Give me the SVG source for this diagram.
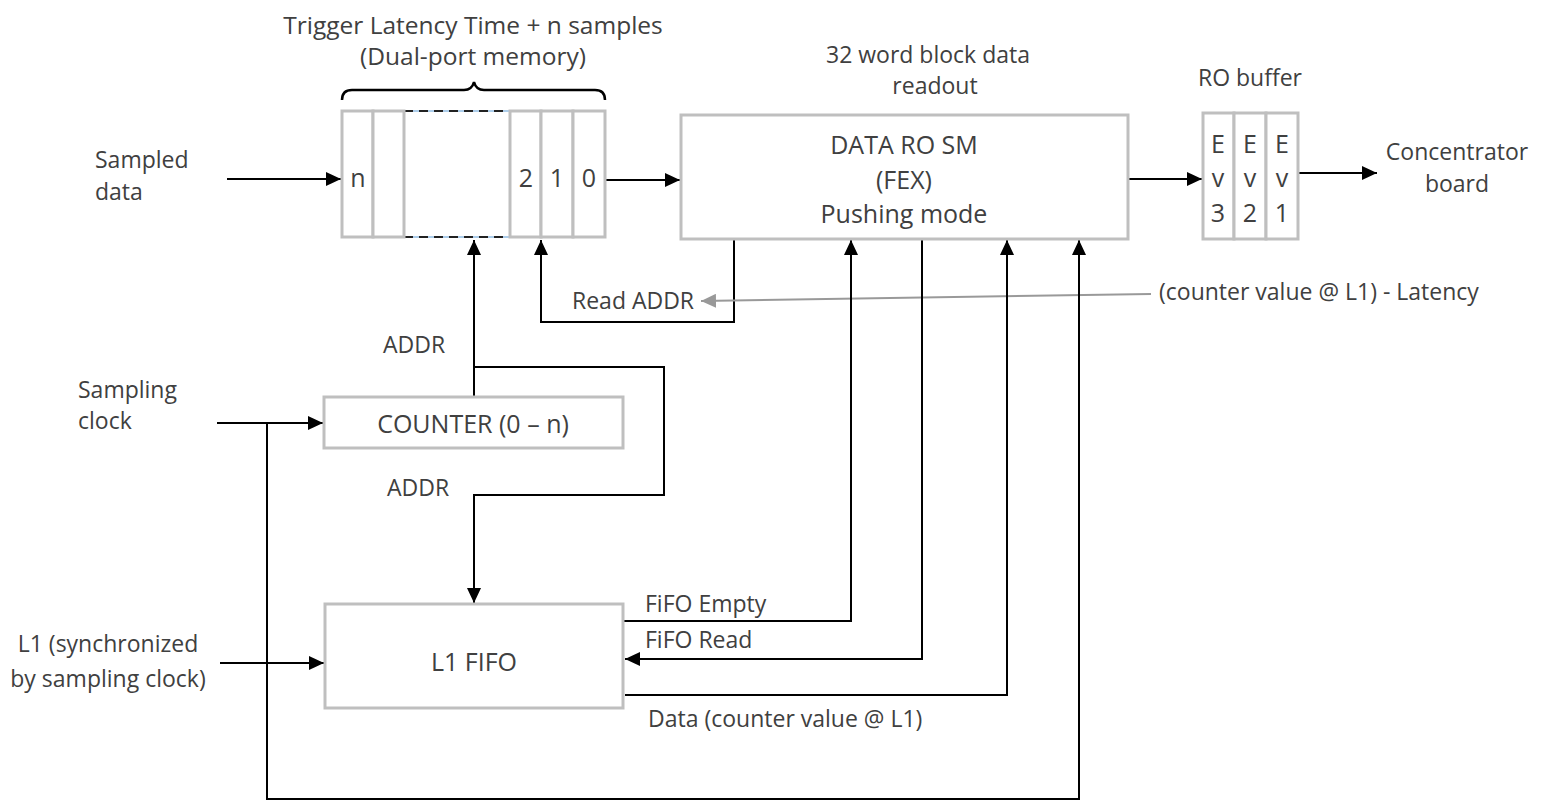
<svg xmlns="http://www.w3.org/2000/svg" width="1544" height="803" viewBox="0 0 1544 803">
  <defs>
    <marker id="arrow" markerUnits="userSpaceOnUse" markerWidth="16" markerHeight="14" refX="15" refY="7" orient="auto">
      <path d="M0,0 L15,7 L0,14 z" fill="#000"/>
    </marker>
    <marker id="arrowGray" markerUnits="userSpaceOnUse" markerWidth="16" markerHeight="14" refX="15" refY="7" orient="auto">
      <path d="M0,0 L15,7 L0,14 z" fill="#999"/>
    </marker>
  </defs>
  <style>
    text { font-family: "Open Sans", "Liberation Sans", sans-serif; font-size: 23px; fill: #404040; }
    .big { font-size: 25px; }
    .mid { text-anchor: middle; }
    .box { fill: #fff; stroke: #bfbfbf; stroke-width: 3; }
    .wire { fill: none; stroke: #000; stroke-width: 2; }
    .arr { marker-end: url(#arrow); }
    .gray { fill: none; stroke: #999; stroke-width: 2; marker-end: url(#arrowGray); }
  </style>

  <rect width="1544" height="803" fill="#fff"/>

  <!-- Connectors -->
  <g id="connectors">
    <!-- inputs -->
    <line class="wire arr" x1="227" y1="179" x2="341" y2="179"/>
    <line class="wire arr" x1="217" y1="423" x2="323" y2="423"/>
    <line class="wire arr" x1="220" y1="663" x2="324" y2="663"/>
    <!-- data path -->
    <line class="wire arr" x1="606" y1="180" x2="680" y2="180"/>
    <line class="wire arr" x1="1129" y1="179" x2="1202" y2="179"/>
    <line class="wire arr" x1="1299" y1="173" x2="1377" y2="173"/>
    <!-- write address from counter -->
    <line class="wire arr" x1="474" y1="397" x2="474" y2="240"/>
    <polyline class="wire arr" points="474,367 664,367 664,495 474,495 474,603"/>
    <!-- read address -->
    <polyline class="wire arr" points="734,240 734,322 541,322 541,240"/>
    <polyline class="gray" points="1151,294 701,301"/>
    <!-- FIFO handshake -->
    <polyline class="wire arr" points="624,621 851,621 851,240"/>
    <polyline class="wire arr" points="922,240 922,659 625,659"/>
    <polyline class="wire arr" points="625,695 1007,695 1007,240"/>
    <!-- sampling clock distribution -->
    <polyline class="wire arr" points="267,423 267,799 1079,799 1079,240"/>
  </g>

  <!-- Dual-port memory -->
  <g id="memory">
    <text class="mid" x="473" y="34" style="font-size:24.5px">Trigger Latency Time + n samples</text>
    <text class="mid" x="473" y="65" style="font-size:24.5px">(Dual-port memory)</text>
    <path d="M342,100 Q342,90 352,90 L464,90 Q472,90 474,82 Q476,90 484,90 L595,90 Q605,90 605,100" fill="none" stroke="#000" stroke-width="2.5"/>
    <line x1="404" y1="111" x2="510" y2="111" stroke="#5b9bd5" stroke-width="1"/>
    <line x1="404" y1="237" x2="510" y2="237" stroke="#5b9bd5" stroke-width="1"/>
    <line x1="404" y1="111" x2="510" y2="111" stroke="#222" stroke-width="2" stroke-dasharray="9,6"/>
    <line x1="404" y1="237" x2="510" y2="237" stroke="#222" stroke-width="2" stroke-dasharray="9,6"/>
    <rect class="box" x="342" y="111" width="31" height="126"/>
    <rect class="box" x="373" y="111" width="31" height="126"/>
    <rect class="box" x="510" y="111" width="31" height="126"/>
    <rect class="box" x="541" y="111" width="32" height="126"/>
    <rect class="box" x="573" y="111" width="32" height="126"/>
    <text class="mid big" x="358" y="187">n</text>
    <text class="mid big" x="526" y="187">2</text>
    <text class="mid big" x="557" y="187">1</text>
    <text class="mid big" x="589" y="187">0</text>
  </g>

  <!-- Readout state machine -->
  <g id="data-ro-sm">
    <text class="mid" x="928" y="63">32 word block data</text>
    <text class="mid" x="935" y="94">readout</text>
    <rect class="box" x="681" y="115" width="447" height="124"/>
    <text class="mid big" x="904" y="154">DATA RO SM</text>
    <text class="mid big" x="904" y="189">(FEX)</text>
    <text class="mid big" x="904" y="223">Pushing mode</text>
  </g>

  <!-- Readout buffer -->
  <g id="ro-buffer">
    <text class="mid" x="1250" y="86">RO buffer</text>
    <rect class="box" x="1203" y="113" width="31" height="126"/>
    <rect class="box" x="1234" y="113" width="32" height="126"/>
    <rect class="box" x="1266" y="113" width="32" height="126"/>
    <text class="mid big" x="1218" y="153">E</text>
    <text class="mid big" x="1218" y="187">v</text>
    <text class="mid big" x="1218" y="222">3</text>
    <text class="mid big" x="1250" y="153">E</text>
    <text class="mid big" x="1250" y="187">v</text>
    <text class="mid big" x="1250" y="222">2</text>
    <text class="mid big" x="1282" y="153">E</text>
    <text class="mid big" x="1282" y="187">v</text>
    <text class="mid big" x="1282" y="222">1</text>
  </g>

  <g id="concentrator">
    <text class="mid" x="1457" y="160">Concentrator</text>
    <text class="mid" x="1457" y="192">board</text>
  </g>

  <!-- Counter -->
  <g id="counter">
    <rect class="box" x="324" y="397" width="299" height="51"/>
    <text class="mid big" x="473" y="433">COUNTER (0 – n)</text>
  </g>

  <!-- L1 FIFO -->
  <g id="l1-fifo">
    <rect class="box" x="325" y="604" width="298" height="104"/>
    <text class="mid big" x="474" y="671">L1 FIFO</text>
  </g>

  <!-- Inputs -->
  <g id="sampled-data">
    <text x="95" y="168">Sampled</text>
    <text x="95" y="200">data</text>
  </g>
  <g id="sampling-clock">
    <text x="78" y="398">Sampling</text>
    <text x="78" y="429">clock</text>
  </g>
  <g id="l1-input">
    <text class="mid" x="108" y="652">L1 (synchronized</text>
    <text class="mid" x="108" y="687">by sampling clock)</text>
  </g>

  <!-- Connector labels -->
  <g id="labels">
    <text x="383" y="353">ADDR</text>
    <text x="387" y="496">ADDR</text>
    <text x="572" y="309">Read ADDR</text>
    <text x="1159" y="300">(counter value @ L1) - Latency</text>
    <text x="645" y="612">FiFO Empty</text>
    <text x="645" y="648">FiFO Read</text>
    <text x="648" y="727">Data (counter value @ L1)</text>
  </g>
</svg>
